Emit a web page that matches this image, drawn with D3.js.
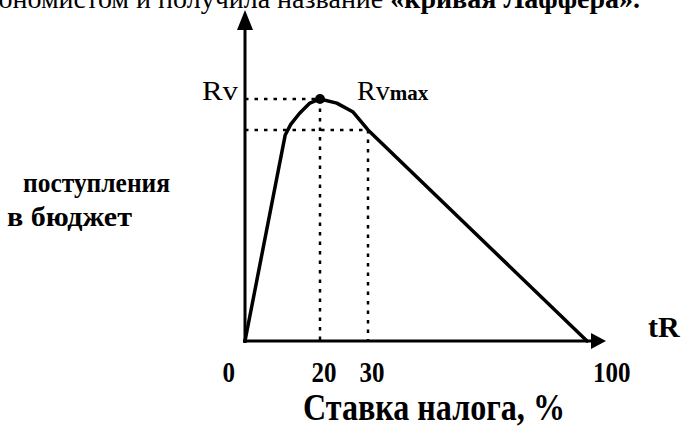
<!DOCTYPE html>
<html>
<head>
<meta charset="utf-8">
<script src="https://cdn.jsdelivr.net/npm/d3@7"></script>
<style>
  body { margin: 0; background: #fff; }
  svg { display: block; }
  text { font-family: "Liberation Serif", "DejaVu Serif", serif; fill: #000; }
</style>
</head>
<body>
<svg id="chart"></svg>
<script>
// Laffer curve: tax rate (%) vs budget revenue
const rates   = [0, 10.7, 12.2, 14.5, 17.3, 20, 23.5, 26.9, 30, 100];
const revenue = [0, 85, 89.5, 94, 98.3, 100, 98.3, 94.6, 87.2, 0];

const tickValues = [0, 20, 30, 100];
const tickLabels = ["0", "20", "30", "100"];

const peakRate = 20, peakRevenue = 100;   // Rv max
const refRate = 30, refRevenue = 87.2;    // second guide point

const width = 686, height = 428;

const svg = d3.select('#chart')
    .attr('width', width)
    .attr('height', height);

// not to scale in the original, so piecewise
const x = d3.scaleLinear()
    .domain([0, 20, 30, 100])
    .range([245, 320, 368, 587]);

const y = d3.scaleLinear()
    .domain([0, 100])
    .range([341, 99]);

// cut-off line of text from the page above
const pageLine = svg.append('text')
    .attr('x', 640)
    .attr('y', 8)
    .attr('text-anchor', 'end')
    .style('font-size', '28px');
pageLine.append('tspan').text('экономистом и получила название ');
pageLine.append('tspan').style('font-weight', 'bold').text('«кривая Лаффера».');

// guide lines (dotted)
const guides = svg.append('g')
    .attr('stroke', '#000')
    .attr('stroke-width', 2.5)
    .attr('stroke-dasharray', '3.5 6');

guides.append('line')
    .attr('x1', x(0)).attr('x2', x(peakRate))
    .attr('y1', y(peakRevenue)).attr('y2', y(peakRevenue));
guides.append('line')
    .attr('x1', x(0)).attr('x2', x(refRate))
    .attr('y1', y(refRevenue)).attr('y2', y(refRevenue));
guides.append('line')
    .attr('x1', x(peakRate)).attr('x2', x(peakRate))
    .attr('y1', y(peakRevenue)).attr('y2', y(0));
guides.append('line')
    .attr('x1', x(refRate)).attr('x2', x(refRate))
    .attr('y1', y(refRevenue)).attr('y2', y(0));

// axes with arrows
const axes = svg.append('g').attr('stroke', '#000').attr('fill', '#000');

axes.append('line')
    .attr('x1', x(0)).attr('x2', x(0))
    .attr('y1', y(0) + 2).attr('y2', 26)
    .attr('stroke-width', 3);
axes.append('path')
    .attr('d', `M${x(0)},10 L${x(0) - 8},30 L${x(0) + 8},30 Z`)
    .attr('stroke', 'none');

axes.append('line')
    .attr('x1', x(0) - 2).attr('x2', 595)
    .attr('y1', y(0)).attr('y2', y(0))
    .attr('stroke-width', 3);
axes.append('path')
    .attr('d', `M606,${y(0)} L591,${y(0) - 8} L591,${y(0) + 8} Z`)
    .attr('stroke', 'none');

// the curve
const points = rates.map((r, i) => [r, revenue[i]]);
const line = d3.line()
    .x(d => x(d[0]))
    .y(d => y(d[1]));

svg.append('path')
    .datum(points)
    .attr('d', line)
    .attr('fill', 'none')
    .attr('stroke', '#000')
    .attr('stroke-width', 3.5)
    .attr('stroke-linejoin', 'round')
    .attr('stroke-linecap', 'round');

svg.append('circle')
    .attr('cx', x(peakRate))
    .attr('cy', y(peakRevenue))
    .attr('r', 5);

// labels
svg.append('text')
    .attr('x', 202).attr('y', y(peakRevenue) + 1)
    .attr('textLength', 36).attr('lengthAdjust', 'spacingAndGlyphs')
    .style('font-size', '28px')
    .text('Rv');

const rmax = svg.append('text')
    .attr('x', 357).attr('y', y(peakRevenue) + 1)
    .style('font-size', '28px');
rmax.append('tspan').text('Rv');
rmax.append('tspan').style('font-size', '21px').style('font-weight', 'bold').text('max');

svg.append('text')
    .attr('x', 648).attr('y', 337)
    .style('font-size', '30px')
    .style('font-weight', 'bold')
    .text('tR');

// condensed tick numbers
svg.append('g')
    .style('font-size', '30px')
    .style('font-weight', 'bold')
    .selectAll('text')
    .data(tickValues)
    .join('text')
    .attr('x', d => x(d))
    .attr('dx', (d, i) => i === 0 ? -10 : (i === tickValues.length - 1 ? 6 : 4))
    .attr('y', 382)
    .attr('text-anchor', (d, i) => i === 0 ? 'end' : (i === tickValues.length - 1 ? 'start' : 'middle'))
    .attr('textLength', (d, i) => tickLabels[i].length * 12.5)
    .attr('lengthAdjust', 'spacingAndGlyphs')
    .text((d, i) => tickLabels[i]);

svg.append('text')
    .attr('x', 303).attr('y', 420)
    .attr('textLength', 262).attr('lengthAdjust', 'spacingAndGlyphs')
    .style('font-size', '37px')
    .style('font-weight', 'bold')
    .text('Ставка налога, %');

const budget = svg.append('g')
    .style('font-size', '27px')
    .style('font-weight', 'bold');
budget.append('text')
    .attr('x', 23).attr('y', 192)
    .attr('textLength', 147).attr('lengthAdjust', 'spacingAndGlyphs')
    .text('поступления');
budget.append('text')
    .attr('x', 7).attr('y', 226)
    .attr('textLength', 125).attr('lengthAdjust', 'spacingAndGlyphs')
    .text('в бюджет');
</script>
</body>
</html>
